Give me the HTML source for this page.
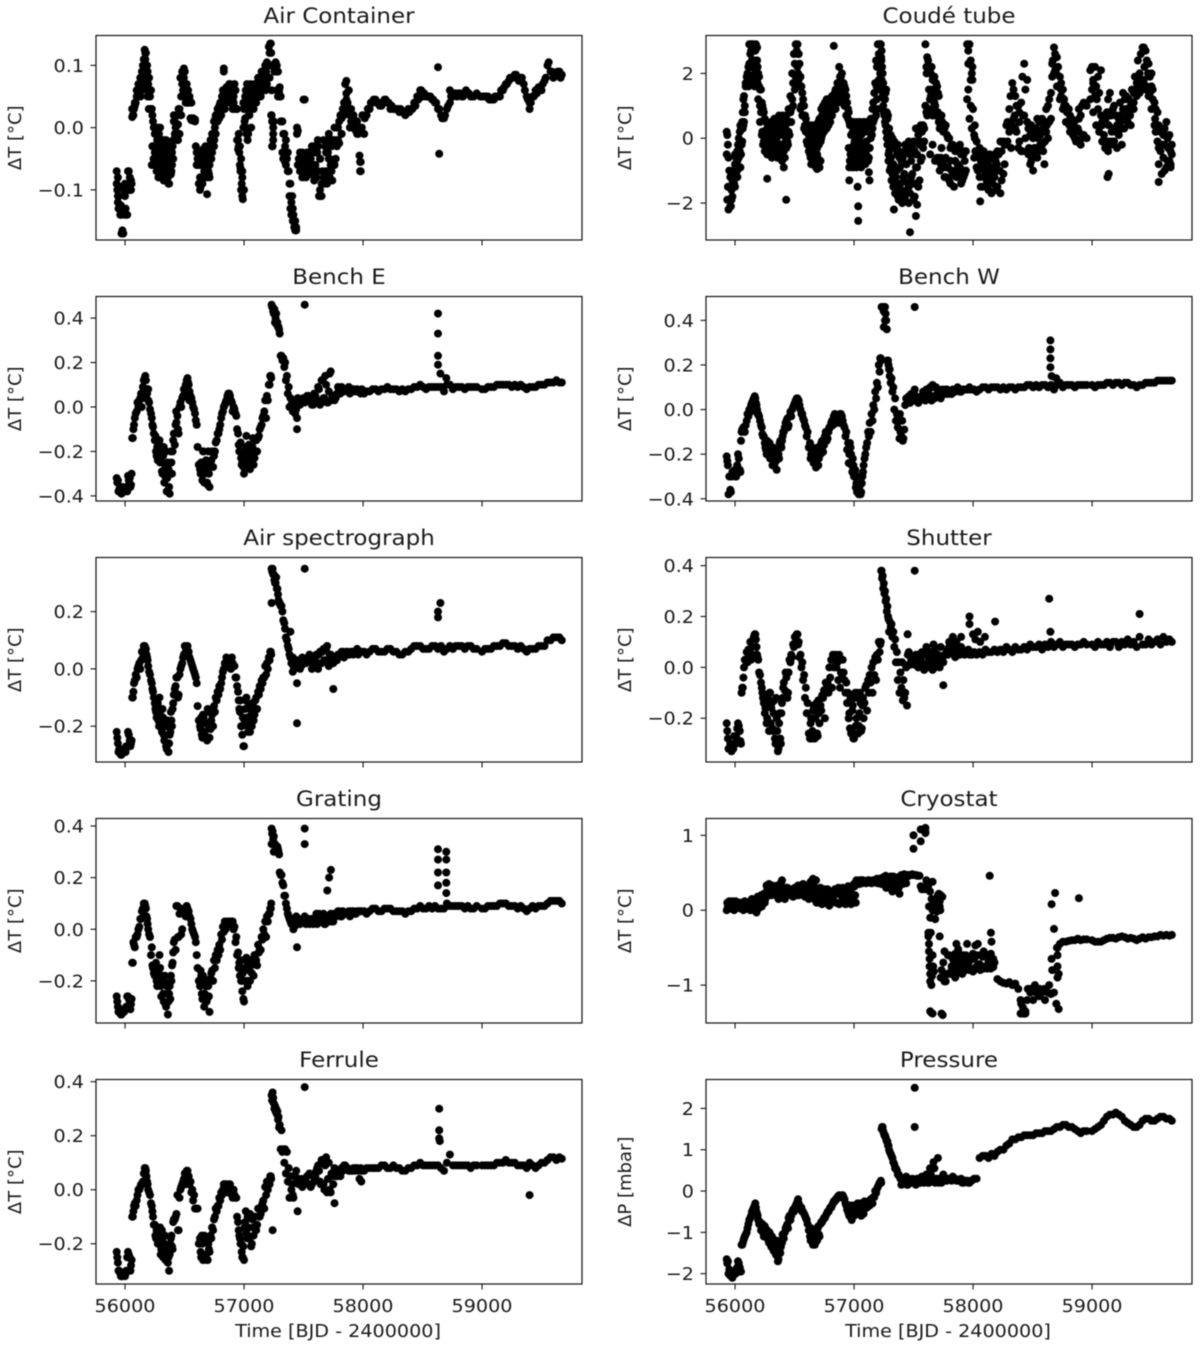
<!DOCTYPE html>
<html lang="en">
<head>
<meta charset="utf-8">
<title>Temperature and pressure time series</title>
<style>
html,body{margin:0;padding:0;background:#fff;width:1200px;height:1349px;overflow:hidden}
svg{display:block;filter:blur(0.45px)}
text{font-family:"DejaVu Sans","Liberation Sans",sans-serif;fill:#1a1a1a}
</style>
</head>
<body>
<svg id="figure" xmlns="http://www.w3.org/2000/svg" width="1200" height="1349" viewBox="0 0 1200 1349"></svg>
<script>
const epochTimes=[
55930,55935,55945,55960,55970,55985,56000,56010,56025,56040,
56045,56055,56065,56075,56090,56105,56120,56135,56150,56165,
56175,56185,56195,56210,56225,56235,56250,56260,56270,56280,
56290,56300,56310,56320,56330,56340,56350,56360,56370,56380,
56390,56400,56410,56425,56440,56450,56465,56480,56495,56510,
56525,56535,56550,56565,56580,56595,56610,56630,56640,56650,
56660,56670,56680,56690,56700,56710,56725,56740,56755,56770,
56785,56800,56815,56830,56845,56860,56875,56890,56905,56920,
56935,56950,56960,56970,56980,56990,57000,57010,57020,57030,
57040,57050,57060,57070,57080,57095,57110,57125,57140,57155,
57170,57185,57200,57215,57225,57232,57240,57250,57260,57270,
57280,57290,57300,57315,57330,57345,57360,57375,57390,57405,
57415,57430,57445,57460,57480,57500,57520,57540,57560,57580,
57600,57615,57630,57645,57660,57675,57690,57705,57720,57735,
57750,57770,57790,57810,57830,57850,57870,57890,57910,57930,
57950,57970,57990,58010,58030,58055,58080,58105,58130,58155,
58180,58205,58230,58255,58280,58305,58330,58355,58380,58405,
58430,58455,58480,58505,58530,58555,58580,58605,58630,58655,
58680,58705,58730,58755,58780,58805,58830,58855,58880,58905,
58930,58955,59000,59025,59050,59075,59100,59125,59150,59175,
59200,59225,59250,59275,59300,59325,59350,59375,59400,59425,
59450,59475,59500,59525,59550,59575,59600,59625,59650,59670];
const midTimes=[
55940,55952,55965,55978,55992,56005,56018,56032,56050,56060,
56070,56082,56098,56112,56128,56142,56158,56170,56180,56190,
56202,56218,56230,56242,56255,56265,56275,56285,56295,56305,
56315,56325,56335,56345,56355,56365,56375,56385,56395,56405,
56418,56432,56445,56458,56472,56488,56502,56518,56530,56542,
56558,56572,56588,56602,56620,56635,56645,56655,56665,56675,
56685,56695,56705,56718,56732,56748,56762,56778,56792,56808,
56822,56838,56852,56868,56882,56898,56912,56928,56942,56955,
56965,56975,56985,56995,57005,57015,57025,57035,57045,57055,
57065,57075,57088,57102,57118,57132,57148,57162,57178,57192,
57208,57220,57228,57236,57245,57255,57265,57275,57285,57295,
57308,57322,57338,57352,57368,57382,57398,57410,57422,57438,
57452,57470,57490,57510,57530,57550,57570,57590,57608,57622,
57638,57652,57668,57682,57698,57712,57728,57742,57760,57780,
57800,57820,57840,57860,57880,57900,57920,57940,57960,57980];
const lateMidTimes=[
57995,58015,58040,58065,58090,58115,58140,58165,58190,58215,
58240,58265,58290,58315,58340,58365,58390,58415,58440,58465,
58490,58515,58540,58565,58590,58615,58640,58665,58690,58715,
58740,58765,58790,58815,58840,58865,58890,58915,58985,59010,
59035,59060,59085,59110,59135,59160,59185,59210,59235,59260,
59285,59310,59335,59360,59385,59410,59435,59460,59485,59510,
59535,59560,59585,59610,59635,59660];

const airContainerValues=[
-.07,-.1,-.13,-.14,-.17,-.17,-.09,-.14,-.07,-.08,
-.1,-.09,.02,.03,.04,.06,.07,.08,.1,.125,
.12,.08,.07,.05,.03,.01,-.01,-.03,-.05,-.08,
-.02,-.05,-.02,-.07,-.04,-.03,-.05,-.08,-.09,-.05,
-.05,-.03,.01,0,-.02,.03,.08,.09,.095,.05,
.04,.04,.015,.012,.014,-.03,-.05,-.1,-.06,-.04,
-.08,-.05,-.07,-.107,-.05,-.08,-.03,-.02,0,.02,
.03,.04,.05,.095,.05,.06,.07,.05,.03,.07,
.03,-.02,-.04,-.07,-.09,-.115,.03,.05,-.01,.06,
.02,.06,0,.04,.05,.06,.07,.05,.08,.06,
.07,.09,.1,.12,.135,.06,-.03,.01,.1,.1,
.09,.06,.05,.01,-.01,-.03,-.05,-.07,-.09,-.11,
-.14,-.165,-.01,-.05,-.07,.045,-.08,-.05,-.07,-.04,
-.06,-.04,-.11,-.11,-.07,-.09,-.04,-.07,-.08,-.03,
-.06,-.02,0,.02,.03,.07,.04,.02,.01,0,
-.01,-.045,0,-.01,.02,.03,.04,.045,.04,.035,
.045,.04,.03,.03,.03,.025,.025,.02,.03,.03,
.04,.05,.06,.05,.05,.05,.045,.04,.03,.02,
.015,.03,.04,.05,.055,.055,.05,.055,.055,.05,
.05,.055,.05,.05,.05,.045,.045,.05,.05,.06,
.07,.075,.08,.085,.08,.08,.07,.05,.04,.05,
.06,.065,.06,.075,.1,.09,.08,.085,.09,.085];
const airContainerUpperMid=[
-.08,-.095,-.125,-.165,-.1,-.13,-.1,-.07,-.085,.017,
.02,.035,.05,.07,.08,.09,.11,.12,.1,.09,
.08,.06,.02,0,-.01,-.005,0,-.01,0,-.02,
-.03,-.02,-.03,-.02,-.03,-.04,-.04,-.04,-.04,-.02,
.01,.02,.005,.03,.05,.09,.09,.07,.06,.045,
.04,.015,.013,-.04,-.06,-.045,-.05,-.035,-.04,-.03,
-.06,-.035,-.03,-.02,-.01,.01,.02,.03,.035,.04,
.06,.05,.065,.06,.07,.06,.05,.03,.03,-.01,
-.03,-.05,-.07,.04,.035,.06,.07,.06,.065,.07,
.065,.06,.07,.065,.08,.07,.09,.085,.1,.105,
.13,.135,.12,.01,0,.1,.105,.1,.09,.06,
.05,.01,-.01,-.02,-.04,-.09,-.12,-.13,-.15,-.16,
-.005,-.04,-.04,.045,-.04,-.04,-.03,-.03,-.03,-.03,
-.1,-.11,-.02,-.03,-.02,-.01,-.02,-.02,0,0,
.01,.015,.04,.075,.06,.03,.02,.01,0,-.055];
const airContainerLowerMid=[
-.11,-.13,-.14,-.17,-.14,-.1,-.14,-.1,-.1,.03,
.03,.04,.06,.06,.07,.06,.07,.07,.07,.06,
.05,.03,-.03,-.05,-.06,-.07,-.06,-.05,-.04,-.06,
-.07,-.085,-.06,-.07,-.08,-.09,-.06,-.075,-.06,-.05,
-.01,-.015,-.02,-.01,.02,.06,.05,.05,.04,.05,
.012,.012,.01,-.06,-.09,-.095,-.08,-.06,-.07,-.06,
-.08,-.07,-.075,-.05,-.04,-.03,-.01,.01,.015,.02,
.04,.03,.04,.05,.04,.05,.04,.06,-.02,-.03,
-.06,-.1,-.11,0,.01,0,.03,-.01,.02,.04,
.03,.04,.05,.04,.06,.05,.06,.06,.065,.07,
.08,.1,.02,-.03,-.02,.09,.09,.06,.05,.055,
.01,-.04,-.05,-.06,-.07,-.11,-.14,-.15,-.16,-.165,
-.06,-.07,-.08,-.05,-.07,-.075,-.06,-.085,-.08,-.07,
-.05,-.09,-.08,-.085,-.09,-.05,-.06,-.085,-.06,-.03,
-.025,-.01,.02,.045,.03,.01,0,-.005,-.01,-.07];
const airContainerLateMid=[
.02,.015,.03,.04,.045,.04,.035,.04,.045,.04,
.035,.03,.03,.03,.025,.025,.025,.03,.035,.045,
.06,.055,.05,.05,.045,.04,.03,.015,.02,.035,
.05,.055,.05,.055,.05,.06,.055,.05,.05,.05,
.05,.045,.045,.05,.05,.06,.065,.07,.08,.08,
.085,.075,.08,.06,.045,.04,.05,.055,.065,.07,
.08,.105,.09,.085,.09,.08];
const airContainerExtraTimes=[
55930,55940,55950,56000,56010,56040,56130,56140,56150,56160,56170,56175,56185,56190,56200,
56225,56235,56240,56250,56260,56270,56280,56295,56310,56320,56330,56345,56360,56370,56380,56390,
56410,56420,56440,56465,56480,56490,56495,56510,56530,
56630,56640,56650,56660,56680,56700,56710,56725,56750,56760,56780,56800,56830,56860,56875,56890,56905,
56950,56970,56985,57000,57000,57010,57020,57030,57040,57060,57080,57100,57120,57140,57160,57180,57215,57225,57232,57245,57280,57300,
57330,57345,57390,57405,57430,57445,57470,57490,57520,57540,57560,57580,57600,57620,57640,57660,57690,57705,57720,57735,
57750,57770,57790,57820,57850,57860,57890,57910,57950,57975,57975,58630,58640,58730,59400];
const airContainerExtraValues=[
-.09,-.12,-.11,-.11,-.1,-.1,.05,.08,.07,.09,.11,.07,.1,.05,.03,
-.06,-.03,-.05,-.04,-.055,-.02,-.04,-.06,-.05,-.03,-.08,-.06,-.04,-.07,-.03,-.07,
.02,-.01,.02,.02,.07,.06,.08,.04,.05,
-.08,-.04,-.09,-.05,-.04,-.07,-.06,-.05,-.02,.015,.015,.025,.09,.045,.05,.06,.045,
-.035,-.065,-.08,-.1,0,.015,.03,-.02,.04,.05,.03,.04,.06,.05,.08,.06,.08,.1,.02,-.01,.06,.065,
-.05,-.055,-.13,-.13,-.15,0,-.06,-.06,-.06,-.07,-.05,-.07,-.04,-.02,-.05,-.09,-.07,-.04,-.05,-.07,
-.02,-.05,-.02,-.01,.03,.055,0,0,.01,-.07,-.055,.097,-.042,.06,.03];

const coudeValues=[
.2,.1,-.6,-1.2,-1.9,-1,-.8,-.6,-.2,.2,
.4,.35,.8,1.3,1.7,2,2.9,2.9,2.9,2.4,
2.9,2.8,2,1.5,1.1,.9,.6,.5,.3,.4,
.1,.4,.5,.2,.6,.3,.5,.2,.7,.4,
.6,.7,.3,-.1,.5,.9,1.3,2,2.6,2.9,
2.9,2.6,1.9,1.4,1,.6,.3,.3,.4,.2,
-.2,.4,.1,-.3,.5,.6,.9,1,1.1,1.2,
1,1.2,1.3,2.85,1.5,1.7,2.2,1.9,1.7,1.6,
1.3,.9,.5,-.3,.4,.2,.5,.4,-.3,.5,
.3,.5,.1,.4,.5,.2,.4,.5,.6,.9,
1.4,2.4,2.9,2.9,2.9,2.7,2,1.5,1.2,1.5,
.6,.1,-.1,0,-.3,-.2,-.5,-.4,-.6,-.5,
-.5,-.2,-.4,-.1,-.3,-.1,.3,.1,.4,.4,
2.9,2.5,2.2,2,1.8,1.9,1.7,1.4,.5,.7,
.2,.4,0,-.3,-.2,-.4,-.4,-.2,-.4,-.4,
2.9,2.9,2,.1,-.1,-.3,-.5,-.6,-.7,-.6,
-.5,-.4,-.1,-.1,.4,.9,1.7,1.3,1,1.1,
2.3,1.8,.1,0,.3,.5,.6,.5,1,1.4,
2.8,2.5,1.9,1.5,1,.9,.6,.2,.3,.7,
1.1,1,2.2,2.2,1.9,2.1,.7,.8,1.4,.9,
.7,.6,.3,1.2,1.2,1,1.4,1.7,2,2.8,
2.7,2.3,2,1.1,.8,.2,.1,.5,.1,-.2];
const coudeLowerValues=[
-.5,-1.9,-2.2,-2.1,-1.6,-1.4,-1.5,-1,-.9,-.4,
-.9,-.2,.3,.5,1.6,1.7,1.8,2.2,1.7,1.6,
2.2,1.8,1.2,.5,.1,-.2,-.4,-.1,-.5,-.3,
-.4,-.1,-.6,-.2,-.4,-.5,-.1,-.3,-.6,-.2,
-.4,-.6,-.9,-.3,-.1,.2,.8,1.2,1.7,1.9,
2.2,1.8,.9,.7,.3,.2,-.2,-.5,-.8,-.1,
-.5,-.2,-.9,-.5,-.1,-.9,0,.2,.5,.3,
.4,.5,.7,1,.9,1.2,1.2,1.5,1.3,1,
.7,.6,-.9,-.5,-.6,-.9,-.2,-.7,-.9,-.4,
-.7,-.1,-.9,-.3,-.5,-.8,-.3,-.6,0,.3,
.6,.7,.9,1.5,2.1,1.8,1.3,.8,.5,.2,
-.2,-.5,-1,-1.3,-.8,-1.7,-1,-1.9,-1.4,-2,
-1.2,-1.9,-1.6,-2,-1.2,-1.9,-.9,-1.5,-.7,-.3,
1,.7,.9,1.3,.7,1.1,.7,.8,-1,-.3,
-.7,-1.2,-.9,-1.4,-1.1,-.7,-1.2,-.9,-1.3,-1.1,
1.2,.6,.3,-.6,-.9,-1.2,-1.5,-1.1,-1.6,-1.7,
-1.2,-1.5,-1.7,-1.1,-.2,.2,.4,.3,-.3,-.4,
.7,.5,-.8,-1,-.5,-.4,-.2,-.1,0,.6,
2,1.6,1.2,.9,.5,.5,.2,0,-.1,-.2,
.1,0,1.5,1.3,.9,.7,.1,-.1,-.1,-.1,
.2,.1,-.2,.6,.5,.4,.9,1.3,1.4,1.6,
1.5,1.3,.9,.4,-.1,-.4,-.6,-.9,-.7,-.5];
const coudeUpperMid=[
-.2,-1,-1.5,-1.8,-1.1,-.5,-.4,0,.3,.5,
1.2,.8,1.9,2.2,2.6,2.9,2.4,2.7,2.4,2.2,
1.9,1.5,1,.8,.2,0,.3,.1,.2,.5,
0,.4,.1,.3,.5,.1,.6,.2,.5,.1,
.2,.7,.2,.5,.9,1.7,2.3,2.7,2.6,2.3,
1.6,1.2,.7,.4,.4,.1,.3,0,.3,.4,
.2,-.1,.4,.3,.7,.8,.9,1.1,1.2,1,
1.2,1.4,1.5,1.7,1.9,2,1.7,1.5,1.1,.8,
.4,.1,.5,.3,.4,0,.4,.2,.4,.3,
.4,.2,.5,.3,.5,.4,.6,1.1,1.7,2.2,
2.6,2.9,2.5,2.2,1.7,1.2,1.4,.8,.7,.3,
.1,0,-.1,-.3,-.2,-.6,-.7,-.6,-.4,-.8,
-.3,-.5,-.3,-.4,-.5,-.1,.2,.3,2.2,2.4,
2,2.2,1.8,1.5,1.6,1.3,.7,.5,.3,.1,
0,-.2,-.3,-.3,-.4,-.5,-.5,-.4,2.7,2.4];
const coudeLowerMid=[
-1.5,-1.9,-2.1,-1.3,-1.4,-1.2,-1,-.6,-.5,-.1,
.4,1,1.7,1.6,1.9,2.4,1.9,2.1,1.8,1.7,
1.6,.8,.2,-.1,-.2,-.4,-.5,-.2,-.3,-.1,
-.4,-.2,-.5,-.3,-.6,-.4,-.2,-.5,-.7,-.3,
-.6,-.3,-.2,.1,.5,1,1.5,1.8,2,1.6,
1,.7,.4,-.1,-.4,-.6,-.3,-.6,-.8,-.4,
-.7,-.6,-.2,-.7,.1,.2,.4,.6,.7,.8,
.9,.9,1.1,1.1,1.3,1.5,1.3,1.1,.7,-.3,
-.7,-.4,-.8,-.7,-.3,-.8,-.5,-.8,-.6,-.6,
-.8,-.6,-.7,-.5,-.7,-.3,.1,.5,.9,1.2,
1.8,2,1.7,1.5,1,.7,.4,0,0,-.4,
-.9,-1.1,-1.5,-1.2,-1.8,-1.5,-1.7,-1.9,-1.1,-1.7,
-1.4,-1.7,-1.1,-1.8,-.9,-1.3,-.6,-.1,.8,.9,
1.2,.8,.9,1,.8,.5,-.6,-.8,-1.2,-.9,
-1.3,-1,-1.5,-1.2,-1,-1.4,-1.2,-1,1.5,1];
const coudeUpperLate=[
2.2,.4,-.4,-.7,-.4,-.8,-.5,-.9,-.7,-.5,
-.4,-.2,.5,1.3,1.5,1,.8,1.9,1.5,.3,
.4,.2,.6,.1,.3,.9,1.2,2.3,2.6,2.2,
1.7,1.2,.8,.7,.4,.3,.9,1,2.1,1.8,
1.6,1.4,.5,.6,1.2,.7,1,.4,1.1,1.4,
1.3,1.2,1.5,1.9,2.4,2.6,2.8,2.4,1.9,1.5,
.9,.4,-.2,.3,0,-.4];
const coudeLowerLate=[
1.8,0,-1,-1.5,-1.2,-1.3,-1,-1.4,-1.6,-1,
-1.3,-.8,-.1,.4,.6,.2,-.1,-.4,0,-.5,
-.7,-.3,-.6,-.2,-.4,.2,.5,1.9,2.1,1.6,
1.3,1,.5,.2,.1,-.1,.2,0,1.2,.8,
.4,.2,-.1,-.3,-.4,-.2,-.1,-.3,.7,.9,
.9,.7,1.1,1.4,1.6,1.8,1.8,1.6,1.4,1.2,
.2,-.8,-1.1,-1,-.7,-.8];
const coudeExtraTimes=[
56270,56430,56690,56960,57030,57035,57035,57130,57125,57335,57470,57530,57520,57720,57720,58060,58600,59130,59140,59560,
55960,55985,56000,56020,56020,56100,56120,56135,56150,56165,56185,
56210,56230,56250,56260,56280,56300,56310,56330,56350,56360,56380,56400,56410,56425,
56620,56640,56660,56680,56700,56720,56740,56840,56870,56900,56920,
56965,56985,57005,57015,57045,57065,57085,57105,57130,57150,
57190,57210,57230,
57290,57310,57330,57350,57370,57385,57400,57420,57440,57460,57480,57500,57520,57550,
57610,57630,57650,57670,57690,
57640,57660,57680,57700,57730,57750,57770,57790,57810,57830,57850,57870,57890,57910,57930,
57960,57980,58000,58020,58045,58070,58095,58120,58145,58170,58200,58225,
58320,58350,58390,58420,58470,58490,58520,58545,58570,58595,58620,
58670,58700,58740,59010,59040,59085,59115,59140,59165,59190,59240,59270,59295,59320,59350,59380,59410,59440,59470,59500,
59530,59560,59590,59610,59640,59660,58810,58850,58890];
const coudeExtraValues=[
-1.25,-1.9,-.95,-1.3,-1.5,-2.1,-2.55,-1.3,-1.05,-2.2,-2.9,-2.05,-2.4,.7,.3,-1.95,-.8,-1.2,-1.1,-1.35,
-1.5,-1.3,-.5,-.7,-1.2,1.7,2.3,2.7,2.3,2,2.4,
1,.2,.1,.2,.1,-.5,.1,0,.3,-.5,.1,.2,-.4,.4,
.1,-.2,-.6,-.4,.2,-.1,.4,1.2,1.5,1.4,1.3,
-.7,-.5,-.1,.2,-.3,-.5,-.2,-.1,-.3,.1,
1.6,2.2,2.4,
-.7,-.6,-1.5,-.9,-1.4,-.9,-1.6,-1.3,-.8,-1.5,-.7,-1.4,-.5,-.2,
2,1.5,1.5,1.1,1.3,
-.5,-.2,-.7,-.6,-.8,-.9,-.6,-.9,-.7,-1.1,-1,-.8,-.9,-1,-.7,
2.3,1.8,.9,-.4,-.5,-.9,-1,-1.4,-1.2,-1.1,-.8,-1,
-.3,.7,.5,.7,-.3,-.5,-.3,0,.2,.2,.4,
2.4,2,1.5,1.7,1.2,.4,.6,.4,.2,.3,.5,.3,.8,.7,1.1,1.4,1.5,2.2,2,1.6,
.6,-.3,-.2,-.2,-.3,-.9,.4,.5,.6];

const benchEValues=[
-.32,-.34,-.38,-.37,-.39,-.38,-.37,-.36,-.31,-.32,
-.36,-.3,-.14,-.08,-.03,.02,.03,.06,.09,.13,
.12,.06,.03,-.01,-.05,-.09,-.15,-.2,-.18,-.23,
-.15,-.24,-.29,-.22,-.34,-.27,-.38,-.25,-.36,-.3,
-.25,-.2,-.12,-.08,-.04,-.12,.02,.04,.08,.1,
.13,.1,.05,.02,-.01,-.06,-.18,-.28,-.25,-.33,
-.2,-.3,-.24,-.34,-.2,-.36,-.24,-.27,-.2,-.15,
-.12,-.08,-.03,0,.02,.05,.06,.03,-.02,-.01,
-.04,-.12,-.2,-.16,-.26,-.22,-.3,-.2,-.13,-.25,
-.17,-.28,-.22,-.18,-.26,-.15,-.2,-.13,-.09,-.05,
-.02,-.05,.03,.1,.14,.46,.45,.42,.38,.42,
.38,.36,.33,.23,.22,.2,.14,.09,.04,.02,
-.02,-.03,.02,.03,.02,.04,.03,.05,.03,.01,
.05,.03,.08,.02,.12,.04,.1,.02,.15,.03,
.05,.04,.09,.06,.07,.08,.07,.06,.08,.07,
.08,.07,.08,.06,.07,.07,.08,.08,.07,.08,
.08,.09,.08,.08,.08,.07,.08,.07,.08,.08,
.09,.09,.1,.09,.08,.09,.09,.09,.09,.09,
.07,.1,.1,.08,.09,.09,.09,.08,.09,.09,
.09,.09,.08,.08,.09,.09,.09,.1,.1,.1,
.1,.1,.09,.1,.09,.1,.09,.08,.09,.09,
.09,.1,.1,.1,.11,.11,.11,.12,.11,.11];
const benchEMid=[
-.33,-.37,-.38,-.36,-.38,-.37,-.38,-.33,-.35,-.14,
-.1,-.05,-.02,0,.04,.05,.12,.14,.08,.08,
.02,-.03,-.08,-.12,-.13,-.22,-.24,-.16,-.25,-.2,
-.3,-.18,-.31,-.2,-.32,-.28,-.39,-.2,-.3,-.15,
-.17,-.07,-.1,0,0,.05,.06,.12,.11,.07,
.04,0,-.03,-.08,-.26,-.3,-.28,-.2,-.34,-.26,
-.28,-.35,-.3,-.25,-.2,-.22,-.16,-.12,-.1,-.05,
-.02,.01,.03,.06,.05,.02,0,-.03,-.1,-.17,
-.2,-.23,-.25,-.27,-.25,-.18,-.2,-.22,-.25,-.2,
-.26,-.14,-.23,-.15,-.14,-.1,-.08,-.04,.03,.05,
.1,.14,.13,.45,.43,.44,.4,.37,.36,.35,
.23,.21,.18,.12,.06,0,.01,-.02,.03,-.01,
.04,.01,.03,.02,.05,.04,.01,.06,.03,.09,
.01,.12,.04,.14,.02,.07,.16,.05,.03,.06,
.08,.09,.07,.08,.09,.07,.08,.07,.07,.06];
const benchEExtraTimes=[57510,58630,58630,58630,58630,58650,58700,57445,57445,56160,56150,56140,56180,56195,56510,56540,56430];
const benchEExtraValues=[.46,.42,.33,.23,.19,.15,.13,-.05,-.1,.08,.04,0,.08,.08,.06,.03,-.02];

const benchWValues=[
-.21,-.23,-.38,-.36,-.3,-.29,-.27,-.3,-.2,-.27,
-.28,-.1,-.09,-.08,-.07,-.02,0,.02,.04,.06,
.03,0,-.02,-.05,-.08,-.12,-.15,-.18,-.14,-.2,
-.15,-.2,-.22,-.17,-.25,-.2,-.27,-.18,-.22,-.14,
-.17,-.12,-.1,-.06,-.04,-.07,-.01,0,.02,.04,
.05,.04,0,-.02,-.05,-.08,-.1,-.15,-.2,-.17,
-.24,-.18,-.26,-.2,-.25,-.17,-.15,-.19,-.12,-.14,
-.1,-.08,-.05,-.03,-.05,-.03,-.05,-.02,-.05,-.08,
-.1,-.15,-.2,-.17,-.25,-.22,-.3,-.27,-.33,-.3,
-.38,-.34,-.37,-.3,-.25,-.2,-.15,-.12,-.1,-.05,
0,.05,.1,.17,.23,.46,.46,.44,.46,.4,
.22,.2,.18,.14,.1,.05,-.02,-.05,-.1,-.05,
-.13,.02,.05,.06,.07,.04,.06,.03,.05,.08,
.04,.07,.09,.06,.11,.05,.1,.07,.06,.08,
.08,.09,.07,.08,.09,.08,.1,.08,.09,.09,
.09,.1,.09,.09,.08,.09,.1,.1,.09,.1,
.1,.1,.09,.1,.09,.1,.1,.09,.1,.1,
.1,.11,.11,.1,.11,.1,.11,.11,.1,.11,
.09,.11,.12,.1,.11,.11,.11,.1,.11,.11,
.11,.11,.11,.1,.11,.11,.11,.12,.12,.11,
.12,.12,.11,.12,.12,.11,.11,.1,.11,.11,
.12,.12,.12,.12,.13,.13,.13,.13,.13,.13];
const benchWMid=[
-.25,-.3,-.37,-.28,-.28,-.3,-.25,-.22,-.14,-.09,
-.08,-.1,-.05,-.03,-.01,.03,.05,.05,.02,-.02,
-.03,-.07,-.11,-.12,-.17,-.2,-.19,-.16,-.22,-.17,
-.25,-.2,-.18,-.23,-.22,-.2,-.15,-.16,-.14,-.1,
-.08,-.05,-.08,-.03,-.03,.01,.03,.05,.03,.02,
-.02,-.04,-.07,-.12,-.17,-.22,-.22,-.2,-.2,-.21,
-.23,-.17,-.22,-.2,-.14,-.16,-.1,-.13,-.08,-.06,
-.07,-.02,-.03,-.06,-.02,-.03,-.07,-.12,-.18,-.24,
-.15,-.2,-.28,-.25,-.3,-.35,-.37,-.34,-.34,-.38,
-.33,-.28,-.22,-.17,-.1,-.06,-.02,.02,.08,.12,
.2,.23,.22,.46,.45,.46,.43,.36,.22,.18,
.12,.08,0,-.05,-.08,-.13,-.12,-.14,-.09,.05,
.04,.03,.06,.09,.05,.04,.06,.07,.09,.05,
.1,.04,.06,.1,.07,.08,.05,.09,.07,.09,
.08,.07,.08,.09,.09,.08,.09,.09,.09,.09];
const benchWExtraTimes=[57510,58650,58650,58650,58650,58660,58700,57260,57250,57300,57400,57385];
const benchWExtraValues=[.46,.31,.27,.23,.19,.15,.14,.4,.37,.15,-.13,-.02];

const airSpectrographValues=[
-.22,-.24,-.29,-.28,-.3,-.29,-.28,-.27,-.22,-.25,
-.27,-.25,-.1,-.05,-.02,0,.02,.03,.04,.08,
.07,.04,.01,-.02,-.05,-.08,-.12,-.15,-.13,-.18,
-.1,-.18,-.22,-.17,-.25,-.2,-.28,-.19,-.26,-.22,
-.18,-.14,-.09,-.06,-.03,-.09,0,.02,.05,.06,
.08,.06,.03,.01,-.01,-.03,-.13,-.2,-.17,-.24,
-.17,-.23,-.19,-.25,-.15,-.24,-.18,-.2,-.15,-.11,
-.09,-.07,-.03,0,.01,.03,.02,0,.02,.01,
-.03,-.08,-.14,-.11,-.2,-.17,-.27,-.14,-.1,-.2,
-.13,-.22,-.16,-.12,-.18,-.11,-.14,-.09,-.07,-.05,
-.03,-.02,0,.03,.06,.35,.35,.33,.3,.32,
.28,.24,.23,.22,.17,.14,.1,.07,.04,.03,
.01,.02,.03,.02,.01,.03,.02,.04,.03,.01,
.04,.01,.05,.02,.06,.03,.07,.02,.05,.03,
.02,.04,.05,.05,.06,.05,.06,.05,.06,.06,
.07,.06,.06,.06,.05,.06,.07,.07,.06,.06,
.06,.07,.07,.06,.06,.05,.05,.06,.06,.07,
.08,.08,.08,.07,.07,.07,.08,.08,.07,.08,
.06,.07,.08,.07,.08,.08,.08,.07,.08,.08,
.07,.07,.06,.07,.07,.07,.08,.08,.08,.09,
.09,.08,.08,.08,.07,.08,.07,.06,.07,.07,
.07,.08,.08,.08,.1,.1,.11,.11,.11,.1];
const airSpectrographMid=[
-.26,-.28,-.3,-.29,-.28,-.29,-.27,-.23,-.26,-.1,
-.08,-.04,-.03,.01,0,.06,.08,.07,.05,.03,
-.01,-.04,-.07,-.1,-.14,-.17,-.12,-.2,-.15,-.2,
-.14,-.23,-.18,-.27,-.18,-.29,-.23,-.15,-.2,-.12,
-.07,-.03,-.1,-.02,.01,.04,.08,.07,.05,.04,
.02,0,-.02,-.05,-.18,-.21,-.23,-.16,-.22,-.19,
-.24,-.14,-.2,-.21,-.16,-.13,-.1,-.08,-.06,-.05,
-.01,.02,.04,.02,.03,.04,.01,-.03,-.06,-.11,
-.15,-.2,-.23,-.27,-.18,-.11,-.17,-.22,-.18,-.14,
-.2,-.13,-.16,-.1,-.08,-.06,-.04,-.03,.01,.02,
.04,.06,.05,.34,.33,.31,.3,.28,.26,.23,
.22,.2,.16,.11,.08,.05,.02,.04,0,.03,
.02,0,.04,.02,.03,.05,0,.03,.05,0,
.06,.02,.07,.03,.08,.01,.05,.03,.04,.03,
.05,.06,.04,.06,.05,.06,.05,.06,.05,.06];
const airSpectrographExtraTimes=[57510,57445,57445,57232,58630,58630,58650,57750,57390,57410];
const airSpectrographExtraValues=[.35,-.19,-.05,.23,.2,.18,.23,-.07,.13,-.01];

const shutterValues=[
-.22,-.25,-.32,-.3,-.33,-.32,-.3,-.27,-.22,-.25,
-.29,-.1,-.08,0,.03,.02,.05,.03,.05,.13,
.11,.05,.03,-.03,-.08,-.12,-.18,-.12,-.2,-.15,
-.1,-.22,-.14,-.25,-.13,-.3,-.2,-.33,-.22,-.28,
-.18,-.12,-.06,-.02,-.12,-.02,.02,.04,.08,.1,
.13,.1,.05,.02,-.03,-.08,-.14,-.28,-.2,-.25,
-.15,-.28,-.17,-.26,-.13,-.22,-.17,-.12,-.2,-.08,
-.1,-.04,-.08,0,.05,.02,.05,-.02,.03,-.05,
-.06,-.1,-.18,-.12,-.25,-.15,-.28,-.1,-.2,-.12,
-.23,-.1,-.25,-.15,-.2,-.08,-.17,-.1,-.06,-.1,
-.03,-.05,.03,.06,.1,.38,.36,.33,.3,.27,
.24,.19,.18,.17,.14,.11,.06,.02,-.02,.02,
-.05,-.1,-.15,.01,.03,.02,.05,0,.03,.01,
.05,0,.03,.05,-.01,.07,.03,.05,0,.04,
.02,.05,.05,.08,.06,.04,.07,.05,.06,.05,
.06,.05,.05,.06,.05,.06,.05,.07,.06,.06,
.07,.06,.07,.06,.08,.07,.06,.08,.07,.07,
.08,.07,.09,.08,.08,.09,.07,.09,.08,.1,
.08,.09,.1,.08,.09,.09,.09,.08,.09,.09,
.1,.09,.09,.08,.1,.09,.09,.1,.08,.1,
.1,.08,.1,.09,.11,.09,.1,.08,.12,.09,
.09,.11,.09,.1,.11,.09,.12,.1,.11,.1];
const shutterMid=[
-.28,-.32,-.3,-.31,-.27,-.3,-.24,-.23,-.3,-.08,
-.04,.03,.06,.07,.1,.08,.12,.13,.08,.04,
-.02,-.06,-.1,-.14,-.16,-.22,-.12,-.25,-.1,-.16,
-.24,-.18,-.28,-.12,-.25,-.32,-.18,-.3,-.14,-.08,
-.09,-.04,-.1,.03,.05,.09,.12,.13,.09,.04,
0,-.05,-.12,-.18,-.26,-.22,-.28,-.17,-.27,-.2,
-.14,-.27,-.18,-.15,-.11,-.09,-.06,-.06,0,.03,
.05,.03,0,-.05,-.08,-.04,-.02,-.1,-.14,-.2,
-.24,-.26,-.17,-.28,-.12,-.23,-.1,-.26,-.18,-.14,
-.24,-.12,-.14,-.07,-.05,-.03,0,.02,.04,.05,
.1,.09,.38,.35,.31,.29,.26,.22,.2,.14,
.16,.12,.08,.02,-.05,-.1,-.08,-.13,-.12,0,
.05,.01,.04,.01,.05,.03,.06,-.01,.08,.02,
.06,.02,.09,0,.05,.02,.08,.03,.05,.07,
.08,.06,.09,.1,.05,.08,.06,.06,.07,.06];
const shutterExtraTimes=[57510,57450,57460,57750,57970,57970,58040,58060,58185,58640,58650,59400,57800,57830,57900,58000,58020,57240,58100];
const shutterExtraValues=[.38,.13,.06,-.07,.2,.17,.14,.1,.18,.27,.14,.21,.1,.12,.12,.13,.11,.36,.12];

const gratingValues=[
-.26,-.28,-.32,-.31,-.33,-.32,-.31,-.3,-.26,-.28,
-.31,-.27,-.13,-.06,-.03,-.02,.01,.04,.08,.1,
.08,.04,0,-.03,-.07,-.15,-.18,-.13,-.22,-.16,
-.1,-.22,-.18,-.25,-.2,-.29,-.22,-.33,-.25,-.27,
-.2,-.13,-.05,-.08,.09,-.03,.08,0,.08,.05,
.08,.07,.04,0,-.02,-.05,-.15,-.22,-.18,-.27,
-.2,-.25,-.2,-.27,-.22,-.32,-.17,-.2,-.15,-.12,
-.1,-.08,-.04,-.01,0,.03,.02,.03,.03,.01,
-.03,-.09,-.13,-.12,-.2,-.17,-.28,-.15,-.11,-.22,
-.13,-.2,-.14,-.12,-.18,-.1,-.14,-.09,-.08,-.04,
-.02,-.03,.03,.06,.08,.39,.38,.36,.33,.31,
.32,.3,.22,.21,.17,.13,.08,.05,.03,.02,
0,.03,.04,.02,.03,.03,.02,.04,.03,.02,
.04,.02,.06,.03,.05,.02,.04,.03,.05,.03,
.03,.05,.07,.05,.07,.06,.06,.05,.07,.06,
.07,.07,.07,.07,.06,.07,.08,.08,.07,.07,
.08,.08,.08,.07,.07,.07,.07,.06,.07,.07,
.08,.08,.09,.08,.08,.09,.08,.09,.08,.08,
.08,.1,.09,.09,.09,.09,.09,.08,.09,.08,
.08,.09,.08,.08,.09,.09,.09,.09,.1,.1,
.1,.09,.09,.09,.08,.09,.08,.07,.08,.09,
.08,.09,.09,.09,.1,.11,.11,.11,.11,.1];
const gratingMid=[
-.3,-.32,-.33,-.32,-.32,-.31,-.26,-.27,-.29,-.13,
-.05,-.07,-.03,0,.04,.07,.1,.09,.05,.02,
-.02,-.1,-.14,-.17,-.14,-.2,-.18,-.21,-.15,-.26,
-.2,-.28,-.18,-.3,-.25,-.28,-.22,-.18,-.14,-.09,
-.04,.09,-.03,.06,-.02,.07,.06,.09,.07,.05,
.02,-.01,-.03,-.1,-.2,-.16,-.25,-.18,-.3,-.22,
-.28,-.2,-.26,-.19,-.16,-.12,-.1,-.08,-.06,-.02,
.01,.03,.02,.03,.02,.03,0,-.05,-.1,-.15,
-.18,-.2,-.24,-.27,-.2,-.12,-.2,-.14,-.16,-.12,
-.17,-.13,-.1,-.12,-.06,-.08,-.03,0,.03,.05,
.06,.08,.1,.37,.35,.33,.32,.3,.31,.29,
.21,.18,.13,.1,.06,.04,.02,.03,.01,.05,
.03,.02,.04,.05,.03,.02,.04,.03,.06,.03,
.05,.03,.06,.02,.05,.03,.06,.04,.06,.06,
.07,.05,.06,.06,.07,.07,.07,.06,.07,.07];
const gratingExtraTimes=[57510,57510,57445,57700,57715,57730,58630,58630,58630,58630,58700,58700,58700,58700,58700,57232,57250];
const gratingExtraValues=[.39,.33,-.07,.15,.2,.23,.31,.27,.22,.17,.3,.27,.22,.18,.14,.33,.3];

const cryostatValues=[
0,.1,.05,.1,.05,.1,.05,.1,.05,.1,
.05,.1,.05,.08,.05,.1,.02,.1,.05,.1,
0,.12,.05,.15,.05,.2,.1,.2,.3,.3,
.32,.25,.33,.28,.22,.3,.25,.18,.3,.25,
.38,.28,.2,.28,.3,.22,.27,.22,.28,.25,
.25,.2,.3,.27,.2,.3,.25,.18,.35,.22,
.3,.2,.4,.2,.28,.12,.25,.15,.28,.1,
.2,.1,.25,.2,.1,.22,.08,.2,.3,.15,
.1,.32,.15,.2,.3,.1,.35,.2,.4,.38,
.38,.4,.38,.4,.38,.38,.37,.4,.38,.38,
.4,.38,.36,.42,.36,.4,.42,.38,.44,.3,
.4,.32,.42,.35,.45,.42,.38,.3,.45,.42,
.46,.47,.47,.47,.47,.47,.47,.46,.32,.28,
.28,.35,.05,-.1,0,.1,.05,.2,.12,-.8,
-.7,-.95,-.6,-.85,-.65,-.8,-.72,-.7,-.75,-.65,
-.75,-.68,-.78,-.65,-.75,-.72,-.62,-.75,-.68,-.72,
-.7,-.92,-.95,-.97,-.98,-.96,-1,-.98,-1.05,-1.25,
-1.38,-1.2,-1.1,-1.2,-1.1,-1.15,-1.1,-1.2,-1.1,-1.12,
-1.1,-.5,-.45,-.42,-.42,-.41,-.4,-.4,-.38,-.4,
-.39,-.39,-.4,-.42,-.42,-.42,-.4,-.38,-.37,-.37,
-.38,-.36,-.35,-.36,-.38,-.37,-.38,-.4,-.38,-.36,
-.38,-.36,-.36,-.35,-.35,-.33,-.34,-.33,-.34,-.33];
const cryostatMid=[
.05,.12,.02,.12,0,.12,.03,.1,.02,.1,
0,.12,.02,.1,0,.15,0,.13,-.03,.18,
.03,.2,.08,.22,.15,.33,.3,.35,.27,.2,
.3,.22,.32,.2,.33,.15,.3,.2,.4,.25,
.15,.3,.2,.26,.28,.18,.3,.2,.33,.22,
.22,.35,.18,.28,.15,.38,.25,.42,.15,.3,
.1,.25,.1,.3,.08,.25,.1,.28,.06,.2,
.15,.28,.1,.3,.1,.28,.22,.08,.3,.1,
.25,.08,.3,.12,.32,.1,.35,.38,.35,.4,
.36,.4,.38,.36,.4,.38,.36,.4,.37,.42,
.38,.42,.35,.4,.44,.34,.46,.3,.42,.3,
.45,.25,.42,.3,.44,.22,.47,.35,.48,.36,
.45,.47,.48,.47,.46,.46,.28,.3,.4,.32,
.25,.15,0,-.12,.1,.22,-.9,.18,-.95,-.85,
-.6,-.75,-.7,-.85,-.65,-.8,-.6,-.75,-.7,-.8];
const cryostatExtraTimes=[
57500,57500,57560,57560,57600,57600,57600,57660,
57625,57625,57630,57630,57635,57635,57640,57640,57645,57650,57655,57660,57665,57670,57640,57650,57660,
57735,57745,57720,57700,57720,57710,57695,57730,57725,
57860,57875,57950,58020,58040,58150,58155,58140,
57760,57790,57820,57850,57880,57910,57940,57970,58000,58030,58060,58090,58120,58150,58170,
57760,57790,57820,57850,57880,57910,57940,57970,58000,58030,58060,58090,58120,58150,58170,
58400,58420,58440,58460,58420,58440,58400,58480,58520,58560,58600,58640,
58660,58690,58680,58660,58665,58700,58720,58710,58710,58710,58710,58720,58890,56000,55940,57640,57660];
const cryostatExtraValues=[
1,.82,1.08,.92,1.1,1.03,1.05,.38,
-.3,-.35,-.45,-.55,-.65,-.75,-.85,-.95,-.3,-1,-.88,-.6,-.75,-.82,-1.35,-1.37,-1.38,
-1.38,-1.4,-.35,.1,.05,.18,-.02,.2,0,
-.45,-.52,-.45,-.47,-.45,-.3,-.42,.46,
-.55,-.6,-.62,-.58,-.65,-.6,-.6,-.62,-.58,-.6,-.6,-.55,-.6,-.58,-.65,
-.85,-.85,-.8,-.9,-.82,-.85,-.8,-.8,-.82,-.78,-.8,-.78,-.78,-.78,-.76,
-1.2,-1.3,-1.35,-1.05,-1.38,-1.38,-1.38,-1.05,-1,-1.05,-1.05,-1,
.08,.23,-.25,-.65,-.8,-1.25,-1.32,-.5,-.6,-.75,-.9,-.85,.16,.1,.02,-.1,.02];

const ferruleValues=[
-.23,-.25,-.3,-.31,-.32,-.31,-.32,-.3,-.23,-.25,
-.3,-.26,-.1,-.06,-.06,-.02,0,.02,.03,.08,
.07,.03,0,-.02,-.06,-.1,-.13,-.18,-.14,-.2,
-.17,-.24,-.15,-.25,-.2,-.26,-.22,-.27,-.3,-.2,
-.17,-.22,-.11,-.1,-.02,-.15,0,.02,.04,.02,
.07,.05,.03,0,-.02,-.07,-.07,-.18,-.25,-.2,
-.26,-.18,-.24,-.26,-.2,-.23,-.18,-.15,-.1,-.08,
-.06,-.04,-.02,.02,0,-.01,.02,0,-.03,-.02,
-.03,-.12,-.17,-.2,-.23,-.25,-.26,-.12,-.16,-.1,
-.18,-.09,-.21,-.11,-.17,-.1,-.13,-.07,-.09,-.05,
-.07,-.02,0,.02,.05,.35,.36,.32,.31,.3,
.29,.27,.24,.22,.15,.15,.14,.08,.05,.02,
-.03,.05,.03,.02,.04,.03,.03,.02,.01,.05,
.05,.08,.07,.02,.1,0,.12,.04,0,.06,
.02,.05,.06,.05,.07,.09,.08,.07,.07,.07,
.08,.04,.07,.07,.08,.08,.08,.08,.08,.09,
.09,.08,.08,.09,.08,.08,.07,.07,.08,.08,
.09,.09,.1,.09,.09,.09,.09,.09,.09,.08,
.07,.1,.13,.09,.09,.09,.09,.09,.09,.08,
.09,.09,.09,.09,.09,.09,.09,.1,.1,.1,
.11,.1,.1,.1,.09,.09,.09,.08,.1,.09,
.08,.09,.1,.1,.11,.12,.12,.11,.12,.115];
const ferruleMid=[
-.27,-.3,-.32,-.32,-.31,-.31,-.25,-.24,-.28,-.1,
-.08,-.05,-.04,0,.01,.02,.06,.08,.05,.02,
-.01,-.05,-.08,-.13,-.17,-.15,-.2,-.17,-.14,-.22,
-.19,-.23,-.17,-.24,-.21,-.25,-.24,-.18,-.21,-.12,
-.11,-.09,-.15,-.03,.01,.03,.06,.07,.05,.02,
-.01,-.04,-.07,-.07,-.2,-.23,-.17,-.26,-.17,-.25,
-.19,-.26,-.22,-.17,-.14,-.11,-.07,-.06,-.03,-.01,
0,.02,.02,0,.02,-.02,0,-.03,-.1,-.15,
-.18,-.2,-.25,-.21,-.14,-.08,-.18,-.14,-.18,-.1,
-.2,-.14,-.1,-.15,-.07,-.1,-.06,-.04,.01,.03,
.03,.05,.04,.33,.34,.3,.29,.28,.26,.23,
.15,.14,.1,.06,.03,-.03,0,-.02,.05,.07,
.04,.03,.01,.04,.05,.06,.02,.03,.07,.09,
.03,.11,.02,.09,-.01,.1,-.01,.05,.08,.05,
.07,.08,.09,.08,.07,.07,.08,.08,.07,.08];
const ferruleExtraTimes=[57510,57450,57240,57760,58640,58640,58640,58645,59400,57985];
const ferruleExtraValues=[.38,-.08,-.15,-.05,.3,.22,.19,.18,-.02,.03];

const pressureValues=[
-1.65,-1.75,-2,-2.05,-2.05,-2,-1.95,-1.9,-1.7,-1.85,
-1.95,-1.3,-1.25,-1.15,-1.05,-.9,-.7,-.6,-.45,-.35,
-.4,-.55,-.7,-.75,-.9,-1,-.85,-1.05,-.95,-1.2,
-1,-1.3,-1.1,-1.4,-1.25,-1.5,-1.2,-1.7,-1.3,-1.5,
-1.2,-1.05,-1.15,-.9,-.8,-.65,-.7,-.5,-.5,-.35,
-.25,-.3,-.45,-.5,-.55,-.65,-.8,-1.1,-.9,-1.2,
-1.05,-1.3,-1,-1.2,-.85,-1.1,-.75,-.7,-.65,-.55,
-.5,-.4,-.35,-.25,-.2,-.15,-.1,-.15,-.1,-.2,
-.35,-.5,-.6,-.4,-.7,-.35,-.6,-.4,-.55,-.3,
-.5,-.3,-.6,-.4,-.55,-.3,-.4,-.25,-.2,-.3,
-.15,-.05,.1,.2,.25,1.5,1.55,1.4,1.35,1.25,
1.2,1.1,.95,.85,.7,.55,.5,.4,.3,.2,
.3,.25,.15,.2,.2,.25,.15,.3,.2,.3,
.25,.35,.2,.4,.25,.55,.3,.8,.3,.2,
.4,.25,.3,.3,.35,.3,.25,.25,.2,.25,
.25,.2,.25,.3,.3,.8,.85,.85,.8,.9,
.85,.95,1,1,1.1,1.15,1.25,1.25,1.3,1.3,
1.35,1.35,1.35,1.35,1.4,1.4,1.4,1.45,1.45,1.45,
1.5,1.55,1.55,1.6,1.6,1.55,1.55,1.5,1.45,1.4,
1.45,1.45,1.45,1.5,1.55,1.6,1.7,1.8,1.85,1.85,
1.9,1.85,1.8,1.7,1.65,1.6,1.55,1.55,1.6,1.7,
1.75,1.75,1.7,1.7,1.75,1.8,1.8,1.75,1.75,1.7];
const pressureMid=[
-1.7,-1.9,-2.05,-2.1,-1.95,-2,-1.85,-1.75,-1.95,-1.3,
-1.2,-1.1,-1,-.8,-.65,-.5,-.4,-.3,-.5,-.6,
-.8,-.95,-.8,-1.1,-.9,-1.1,-1,-1.25,-1.05,-1.35,
-1.15,-1.45,-1.2,-1.55,-1.3,-1.65,-1.4,-1.35,-1.25,-1.1,
-1,-.85,-.9,-.6,-.6,-.45,-.4,-.3,-.2,-.35,
-.4,-.5,-.6,-.7,-.95,-1.2,-1,-1.3,-1.15,-1.25,
-1.1,-.9,-1.05,-.8,-.75,-.65,-.6,-.5,-.45,-.4,
-.3,-.25,-.2,-.12,-.15,-.1,-.15,-.3,-.45,-.55,
-.35,-.65,-.4,-.55,-.35,-.5,-.35,-.5,-.35,-.55,
-.35,-.5,-.25,-.4,-.3,-.35,-.2,-.15,0,.05,
.15,.2,.2,1.55,1.45,1.35,1.3,1.2,1.1,1,
.9,.8,.65,.55,.4,.35,.15,.3,.2,.35,
.15,.25,.3,.2,.3,.2,.35,.2,.4,.2,
.55,.25,.7,.2,.3,.2,.3,.25,.3,.25,
.3,.25,.3,.25,.25,.3,.2,.25,.2,.25];
const pressureExtraTimes=[57510,57510];
const pressureExtraValues=[2.5,1.55];

const xTickValues=[56000,57000,58000,59000];
const airContainerTicks=[-0.1,0,0.1];
const coudeTicks=[-2,0,2];
const benchTicks=[-0.4,-0.2,0,0.2,0.4];
const airSpectrographTicks=[-0.2,0,0.2];
const upperTicks=[-0.2,0,0.2,0.4];
const cryostatTicks=[-1,0,1];
const pressureTicks=[-2,-1,0,1,2];

const NS='http://www.w3.org/2000/svg';
const fig=document.getElementById('figure');
const xDomain=[55756,59840];
const colLeft=[96,706];
const boxWidth=486;
const rowTop=[35.5,296.5,557.5,818.5,1079.5];
const boxHeight=204.5;
const textStretch=1.065;

const panels=[
{slug:'air-container',title:'Air Container',col:0,row:0,ylabel:'ΔT [°C]',domain:[-.1805,.148],ticks:airContainerTicks,dec:1,series:[[epochTimes,airContainerValues],[midTimes,airContainerUpperMid],[midTimes,airContainerLowerMid],[lateMidTimes,airContainerLateMid],[airContainerExtraTimes,airContainerExtraValues]]},
{slug:'coude-tube',title:'Coudé tube',col:1,row:0,ylabel:'ΔT [°C]',domain:[-3.14,3.17],ticks:coudeTicks,dec:0,series:[[epochTimes,coudeValues],[epochTimes,coudeLowerValues],[midTimes,coudeUpperMid],[midTimes,coudeLowerMid],[lateMidTimes,coudeUpperLate],[lateMidTimes,coudeLowerLate],[coudeExtraTimes,coudeExtraValues]]},
{slug:'bench-e',title:'Bench E',col:0,row:1,ylabel:'ΔT [°C]',domain:[-.423,.497],ticks:benchTicks,dec:1,series:[[epochTimes,benchEValues],[midTimes,benchEMid],[benchEExtraTimes,benchEExtraValues]]},
{slug:'bench-w',title:'Bench W',col:1,row:1,ylabel:'ΔT [°C]',domain:[-.41,.507],ticks:benchTicks,dec:1,series:[[epochTimes,benchWValues],[midTimes,benchWMid],[benchWExtraTimes,benchWExtraValues]]},
{slug:'air-spectrograph',title:'Air spectrograph',col:0,row:2,ylabel:'ΔT [°C]',domain:[-.325,.389],ticks:airSpectrographTicks,dec:1,series:[[epochTimes,airSpectrographValues],[midTimes,airSpectrographMid],[airSpectrographExtraTimes,airSpectrographExtraValues]]},
{slug:'shutter',title:'Shutter',col:1,row:2,ylabel:'ΔT [°C]',domain:[-.372,.432],ticks:upperTicks,dec:1,series:[[epochTimes,shutterValues],[midTimes,shutterMid],[shutterExtraTimes,shutterExtraValues]]},
{slug:'grating',title:'Grating',col:0,row:3,ylabel:'ΔT [°C]',domain:[-.363,.429],ticks:upperTicks,dec:1,series:[[epochTimes,gratingValues],[midTimes,gratingMid],[gratingExtraTimes,gratingExtraValues]]},
{slug:'cryostat',title:'Cryostat',col:1,row:3,ylabel:'ΔT [°C]',domain:[-1.506,1.225],ticks:cryostatTicks,dec:0,series:[[epochTimes,cryostatValues],[midTimes,cryostatMid],[cryostatExtraTimes,cryostatExtraValues]]},
{slug:'ferrule',title:'Ferrule',col:0,row:4,ylabel:'ΔT [°C]',domain:[-.349,.408],ticks:upperTicks,dec:1,series:[[epochTimes,ferruleValues],[midTimes,ferruleMid],[ferruleExtraTimes,ferruleExtraValues]]},
{slug:'pressure',title:'Pressure',col:1,row:4,ylabel:'ΔP [mbar]',domain:[-2.25,2.7],ticks:pressureTicks,dec:0,series:[[epochTimes,pressureValues],[midTimes,pressureMid],[pressureExtraTimes,pressureExtraValues]]}
];

function make(tag,attrs,parent,text){
  const el=document.createElementNS(NS,tag);
  for(const k in attrs){el.setAttribute(k,attrs[k]);}
  if(text!==undefined){el.textContent=text;}
  parent.appendChild(el);
  return el;
}
function fmt(v,dec){
  const s=Math.abs(v).toFixed(dec);
  return (v<0?'\u2212':'')+s;
}
function stretchAt(x){
  return 'translate('+x+' 0) scale('+textStretch+' 1) translate('+(-x)+' 0)';
}

panels.forEach(function(p){
  const left=colLeft[p.col],top=rowTop[p.row];
  const xScale=function(t){return left+(t-xDomain[0])/(xDomain[1]-xDomain[0])*boxWidth;};
  const yScale=function(v){return top+boxHeight-(v-p.domain[0])/(p.domain[1]-p.domain[0])*boxHeight;};
  const g=make('g',{},fig);
  
  

  const cx=left+boxWidth/2;
  const title=make('text',{x:cx,y:top-12.5,'text-anchor':'middle','font-size':'21.6',transform:stretchAt(cx)},g,p.title);
  
  

  const pts=make('g',{fill:'#000'},g);
  
  
  p.series.forEach(function(s){
    const n=Math.min(s[0].length,s[1].length);
    for(let i=0;i<n;i++){
      const c=make('circle',{cx:xScale(s[0][i]).toFixed(1),cy:yScale(s[1][i]).toFixed(1),r:'4'},pts);
      
      
    }
  });

  const box=make('rect',{x:left,y:top,width:boxWidth,height:boxHeight,fill:'none',stroke:'#111','stroke-width':'1.2'},g);
  
  

  xTickValues.forEach(function(t){
    const x=xScale(t);
    const tk=make('line',{x1:x,x2:x,y1:top+boxHeight,y2:top+boxHeight+5.5,stroke:'#111','stroke-width':'1.1'},g);
    
    
    if(p.row===4){
      const lab=make('text',{x:x,y:top+boxHeight+28,'text-anchor':'middle','font-size':'18',transform:stretchAt(x)},g,String(t));
      
      
    }
  });

  p.ticks.forEach(function(v){
    const y=yScale(v);
    const tk=make('line',{x1:left-5.5,x2:left,y1:y,y2:y,stroke:'#111','stroke-width':'1.1'},g);
    
    
    const tx=left-12;
    const lab=make('text',{x:tx,y:y+6.5,'text-anchor':'end','font-size':'18',transform:stretchAt(tx)},g,fmt(v,p.dec));
    
    
  });

  const lx=left-75,ly=top+boxHeight/2;
  const yl=make('text',{x:lx,y:ly,'text-anchor':'middle','font-size':'18',transform:'rotate(-90 '+lx+' '+ly+')'},g,p.ylabel);
  
  

  if(p.row===4){
    const xc=cx-1;
    const xl=make('text',{x:xc,y:top+boxHeight+53,'text-anchor':'middle','font-size':'18',transform:stretchAt(xc)},g,'Time [BJD - 2400000]');
    
    
  }
});
</script>
</body>
</html>
